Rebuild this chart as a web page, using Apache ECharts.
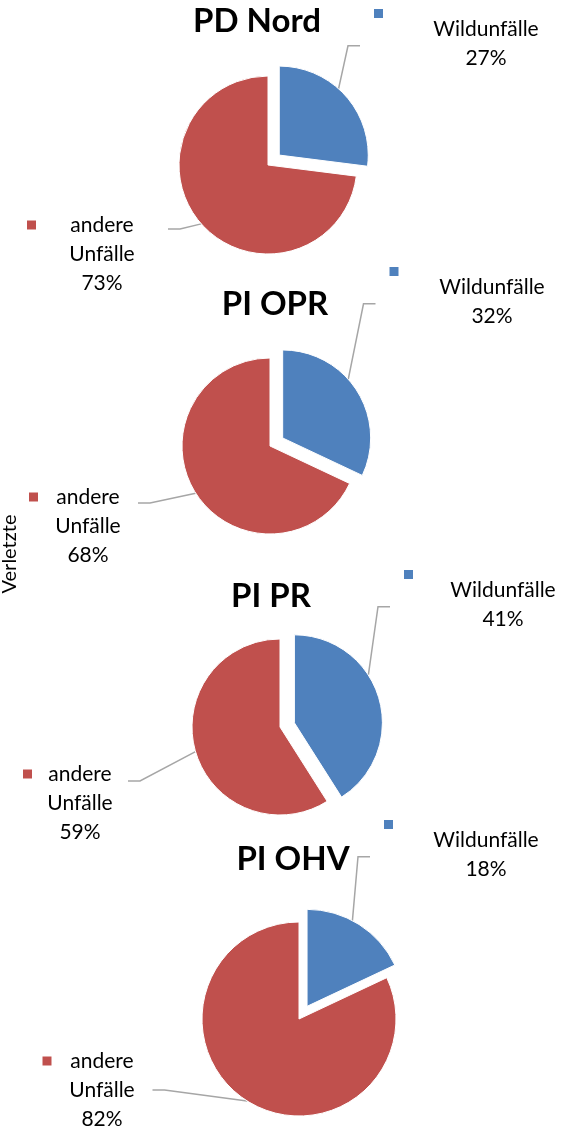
<!DOCTYPE html>
<html>
<head>
<meta charset="utf-8">
<title>Verletzte – Wildunfälle</title>
<script src="https://cdn.jsdelivr.net/npm/echarts@6/dist/echarts.min.js"></script>
<style>
  html, body { margin: 0; padding: 0; background: #fff; }
  #chart { width: 572px; height: 1129px; }
</style>
</head>
<body>
<div id="chart"></div>
<script>
// data
const regions = ['PD Nord', 'PI OPR', 'PI PR', 'PI OHV'];
const categories = ['Wildunfälle', 'andere Unfälle'];
const wildunfaelle = [27, 32, 41, 18];
const andereUnfaelle = [73, 68, 59, 82];
const axisTitle = 'Verletzte';

// layout in px
const pieCenters = [[268, 165], [270, 446], [280, 727], [299, 1019]];
const pieRadii = [89, 88, 88, 97];
const titleCenters = [[257, 22], [275, 305], [271, 597], [293, 860]];
// [square centre x, text centre x, first text line y]
const wildLabelPos = [[378.5, 486, 29], [394, 492, 287], [408.5, 503, 590], [388.5, 486, 840]];
const otherLabelPos = [[31.5, 102, 225], [33.5, 88, 497], [27.5, 80, 774], [47, 102, 1061]];
// extra top padding so the leader line meets the label at the right height
const otherPadTop = [50, 46, 44, 0];

const colors = ['#4F81BD', '#C0504D'];
const FONT = 'Lato, "Open Sans", sans-serif';
const SQ = 9;
const LINE_H = 29;
const WILD_PAD = [0, 0, 16, 14];

function labelText(p) {
  const words = p.name.split(' ');
  const pct = Math.round(p.percent) + '%';
  if (p.dataIndex === 0) {
    return '{sqW|}\n' + words.map(w => '{t|' + w + '}').join('\n') + '\n{t|' + pct + '}';
  }
  const lines = words.concat([pct]);
  return lines.map((w, k) => (k === 0 ? '{sqR|}' : '{sq0|}') + '{t|' + w + '}').join('\n');
}

const series = [];
regions.forEach((region, i) => {
  const w = wildLabelPos[i];
  const o = otherLabelPos[i];
  const wL = w[0] - SQ / 2;
  const oL = o[0] - SQ / 2;
  // base pie: red slice + all labels (blue part left empty here)
  series.push({
    type: 'pie',
    name: region,
    z: 1,
    center: pieCenters[i],
    radius: pieRadii[i],
    startAngle: 90,
    clockwise: true,
    avoidLabelOverlap: false,
    animation: false,
    silent: true,
    emphasis: { disabled: true },
    itemStyle: { borderColor: '#fff', borderWidth: 1 },
    label: {
      show: true,
      position: 'outside',
      formatter: labelText,
      fontFamily: FONT,
      fontSize: 21,
      color: '#000',
      lineHeight: LINE_H,
      rich: {
        t: { fontFamily: FONT, fontSize: 21, color: '#000', lineHeight: LINE_H, align: 'center' },
        sqW: { width: SQ, height: SQ, lineHeight: 2, backgroundColor: colors[0], align: 'left' },
        sqR: { width: SQ, height: SQ, backgroundColor: colors[1], align: 'left' },
        sq0: { width: SQ, height: SQ, align: 'left' }
      }
    },
    labelLine: {
      show: true,
      length: 12,
      length2: 12,
      lineStyle: { color: '#a6a6a6', width: 1.5 }
    },
    labelLayout: function (p) {
      if (p.dataIndex === 0) {
        return { x: wL - WILD_PAD[3], y: w[2] - 16.5, align: 'left', verticalAlign: 'top' };
      }
      return { x: oL, y: o[2] - LINE_H / 2 - otherPadTop[i], align: 'left', verticalAlign: 'top' };
    },
    data: [
      {
        name: categories[0], value: wildunfaelle[i],
        itemStyle: { color: 'rgba(0,0,0,0)', borderWidth: 0 },
        label: { width: 2 * (w[1] - wL), padding: WILD_PAD }
      },
      {
        name: categories[1], value: andereUnfaelle[i],
        itemStyle: { color: colors[1] },
        label: { width: 2 * (o[1] - oL) - SQ, padding: [otherPadTop[i], 0, 0, 0] }
      }
    ]
  });
  // exploded blue slice
  series.push({
    type: 'pie',
    name: region + ' Wild',
    z: 2,
    center: pieCenters[i],
    radius: pieRadii[i],
    startAngle: 90,
    clockwise: true,
    selectedMode: 'single',
    selectedOffset: 15,
    animation: false,
    silent: true,
    emphasis: { disabled: true },
    label: { show: false },
    labelLine: { show: false },
    itemStyle: { borderColor: '#fff', borderWidth: 1 },
    data: [
      { name: categories[0], value: wildunfaelle[i], selected: true, itemStyle: { color: colors[0] } },
      { name: categories[1], value: andereUnfaelle[i], itemStyle: { color: 'rgba(0,0,0,0)', borderWidth: 0 } }
    ]
  });
});

const chart = echarts.init(document.getElementById('chart'), null, { renderer: 'canvas' });
chart.setOption({
  animation: false,
  backgroundColor: '#fff',
  title: regions.map((r, i) => ({
    text: r,
    left: titleCenters[i][0],
    top: titleCenters[i][1] - 17,
    textAlign: 'center',
    padding: 0,
    textStyle: { fontFamily: FONT, fontWeight: 'bold', fontSize: 33, color: '#000' }
  })),
  graphic: [{
    type: 'text',
    x: 10,
    y: 554,
    rotation: Math.PI / 2,
    style: {
      text: axisTitle,
      fontFamily: FONT,
      fontSize: 20,
      fill: '#000',
      align: 'center',
      verticalAlign: 'middle',
      textAlign: 'center',
      textVerticalAlign: 'middle'
    }
  }],
  series: series
});
</script>
</body>
</html>
